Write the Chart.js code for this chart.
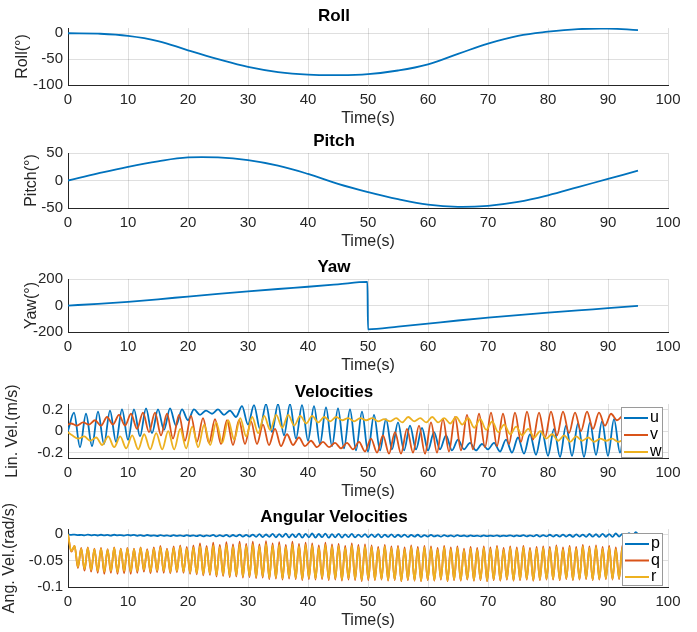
<!DOCTYPE html>
<html>
<head>
<meta charset="utf-8">
<script src="https://cdn.jsdelivr.net/npm/chart.js@4.4.1/dist/chart.umd.min.js"></script>
<style>
  body { margin: 0; background: #fff; width: 697px; height: 632px; position: relative; overflow: hidden; }
  canvas { position: absolute; left: 0; }
</style>
</head>
<body>
<canvas id="roll"></canvas>
<canvas id="pitch"></canvas>
<canvas id="yaw"></canvas>
<canvas id="vel"></canvas>
<canvas id="ang"></canvas>
<script>
// ---- data ----
const xTicks = [0, 10, 20, 30, 40, 50, 60, 70, 80, 90, 100];

const attTime = [0, 5, 10, 15, 20, 25, 30, 35, 40, 45, 50, 55, 60, 65, 70, 75, 80, 85, 90, 95];
const rollDeg = [0, -0.8, -5, -15, -33, -50, -65, -75, -80, -81, -79, -72, -60, -40, -20, -5, 3, 8, 9, 6];
const pitchDeg = [0, 13, 25, 35, 42, 42, 37, 27, 12, -6, -21, -34, -44, -48, -46, -39, -27, -12, 3, 18];

const yawTime = [0, 5, 10, 15, 20, 25, 30, 35, 40, 45, 49.9, 50, 55, 60, 65, 70, 75, 80, 85, 90, 95];
const yawDeg = [0, 12, 28, 47, 68, 88, 107, 125, 142, 160, 178, -180, -160, -137, -113, -92, -72, -54, -37, -20, -3];

const rollTicks = [-100, -50, 0];
const pitchTicks = [-50, 0, 50];
const yawTicks = [-200, 0, 200];
const velTicks = [-0.2, 0, 0.2];
const angTicks = [-0.1, -0.05, 0];

// linear velocities: peaks / troughs, one value per sample step
const velStep = 1;
const uStart = 0, vStart = -0.5, wStart = -0.3;
const uVel = [
  0.0, 0.17, -0.15, 0.16, -0.14, 0.18, -0.12, 0.19, -0.1, 0.2,
  -0.08, 0.2, -0.05, 0.21, -0.02, 0.2, 0.01, 0.21, 0.05, 0.2,
  0.1, 0.2, 0.15, 0.19, 0.16, 0.2, 0.15, 0.19, 0.13, 0.23,
  0.06, 0.24, 0.02, 0.25, -0.01, 0.25, -0.04, 0.25, -0.07, 0.24,
  -0.09, 0.23, -0.12, 0.22, -0.14, 0.21, -0.16, 0.2, -0.18, 0.18,
  -0.19, 0.15, -0.18, 0.11, -0.17, 0.08, -0.18, 0.05, -0.17, 0.03,
  -0.18, -0.01, -0.17, -0.04, -0.18, -0.08, -0.17, -0.11, -0.18, -0.12,
  -0.17, -0.11, -0.19, -0.08, -0.2, -0.06, -0.21, -0.03, -0.22, 0.0,
  -0.23, 0.02, -0.24, 0.05, -0.23, 0.07, -0.24, 0.08, -0.22, 0.09,
  -0.23, 0.11, -0.2, 0.1, -0.18, 0.05
];
const vVel = [
  0.04, 0.07, 0.05, 0.08, 0.06, 0.1, 0.05, 0.13, 0.06, 0.15,
  0.05, 0.16, 0.02, 0.17, -0.01, 0.17, -0.04, 0.16, -0.07, 0.15,
  -0.09, 0.14, -0.1, 0.12, -0.11, 0.11, -0.12, 0.1, -0.13, 0.1,
  -0.12, 0.09, -0.12, 0.06, -0.13, 0.02, -0.14, -0.03, -0.13, -0.06,
  -0.14, -0.09, -0.15, -0.1, -0.15, -0.11, -0.16, -0.11, -0.17, -0.1,
  -0.19, -0.07, -0.2, -0.04, -0.21, -0.01, -0.21, 0.02, -0.2, 0.05,
  -0.21, 0.08, -0.2, 0.11, -0.19, 0.13, -0.18, 0.15, -0.17, 0.16,
  -0.15, 0.17, -0.14, 0.16, -0.12, 0.17, -0.1, 0.18, -0.08, 0.17,
  -0.06, 0.18, -0.04, 0.18, -0.02, 0.17, 0.0, 0.18, 0.02, 0.17,
  0.05, 0.16, 0.1, 0.14, 0.11, 0.13, 0.12
];
const wVel = [
  0.0, -0.04, -0.07, -0.05, -0.09, -0.06, -0.13, -0.05, -0.15, -0.05,
  -0.16, -0.04, -0.17, -0.03, -0.17, -0.02, -0.17, 0.0, -0.17, 0.02,
  -0.16, 0.04, -0.15, 0.06, -0.13, 0.08, -0.11, 0.1, -0.08, 0.12,
  -0.05, 0.13, -0.02, 0.14, 0.01, 0.15, 0.03, 0.15, 0.05, 0.14,
  0.07, 0.14, 0.08, 0.13, 0.09, 0.13, 0.1, 0.12, 0.09, 0.12,
  0.1, 0.12, 0.09, 0.11, 0.09, 0.12, 0.08, 0.13, 0.09, 0.12,
  0.08, 0.13, 0.08, 0.12, 0.07, 0.13, 0.06, 0.12, 0.03, 0.11,
  0.01, 0.09, -0.01, 0.06, -0.03, 0.04, -0.04, 0.02, -0.06, 0.0,
  -0.07, -0.03, -0.09, -0.04, -0.1, -0.05, -0.09, -0.06, -0.1, -0.07,
  -0.09, -0.07, -0.1, -0.08, -0.09, -0.08
];

// angular velocities: peaks / troughs every half period
const angStep = 0.55;
const pRate = [
  0, -0.001,
  -0.0005, -0.0015, -0.001, -0.002, -0.0005, -0.0018, -0.001, -0.0022, -0.0008, -0.002, -0.0012, -0.0025, -0.0008, -0.002, -0.0014, -0.0026, -0.001, -0.0022,
  -0.0012, -0.0028, -0.0016, -0.003, -0.0013, -0.0027, -0.0018, -0.0032, -0.0015, -0.003, -0.002, -0.0035, -0.0016, -0.003, -0.0019, -0.0034, -0.0017, -0.0032,
  -0.0018, -0.0036, -0.0015, -0.0038, -0.002, -0.0035, -0.0012, -0.004, -0.0016, -0.0037, -0.001, -0.0042, -0.0013, -0.0038, -0.0006, -0.0045, -0.001, -0.0042,
  -0.0004, -0.0048, 0.0002, -0.0052, -0.0003, -0.0047, 0.0008, -0.0056, 0.0002, -0.005, 0.0012, -0.006, 0.0005, -0.0054, 0.0015, -0.0062, 0.0008, -0.0056,
  0.0016, -0.0062, 0.0006, -0.0055, 0.0014, -0.0064, 0.0004, -0.0056, 0.001, -0.006, 0.0, -0.0052, 0.0008, -0.0058, -0.0004, -0.005, 0.0003, -0.0054,
  -0.0002, -0.0052, 0.0002, -0.0056, -0.0006, -0.0048, -0.0002, -0.0054, -0.0008, -0.0046, -0.0004, -0.005, -0.0012, -0.0044, -0.0008, -0.0048, -0.0014, -0.0042,
  -0.0012, -0.004, -0.0018, -0.0044, -0.0015, -0.0038, -0.002, -0.0042, -0.0016, -0.0036, -0.0022, -0.004, -0.002, -0.0036, -0.0024, -0.0039, -0.0021, -0.0036,
  -0.0024, -0.0035, -0.002, -0.0037, -0.0023, -0.0034, -0.0018, -0.0038, -0.0021, -0.0036, -0.0015, -0.004, -0.0018, -0.0038, -0.0012, -0.0042, -0.0015, -0.004,
  -0.0008, -0.0042, -0.0011, -0.0045, -0.0004, -0.0043, -0.0008, -0.0047, 0.0, -0.0044, -0.0004, -0.0048, 0.0006, -0.0045, 0.0001, -0.0049, 0.001, -0.0046,
  0.0005, -0.0048, 0.0016, -0.0042, 0.0008, -0.005, 0.0022, -0.004, 0.004, -0.002
];
const qRate = [
  0, -0.033,
  -0.022, -0.064, -0.026, -0.069, -0.025, -0.071, -0.027, -0.073, -0.026, -0.075, -0.028, -0.073, -0.025, -0.075, -0.027, -0.074, -0.026, -0.075,
  -0.027, -0.073, -0.025, -0.071, -0.028, -0.074, -0.025, -0.072, -0.022, -0.073, -0.027, -0.074, -0.023, -0.072, -0.021, -0.073, -0.024, -0.075,
  -0.021, -0.076, -0.017, -0.078, -0.022, -0.077, -0.016, -0.08, -0.02, -0.079, -0.015, -0.081, -0.019, -0.08, -0.014, -0.082, -0.018, -0.081,
  -0.014, -0.083, -0.019, -0.082, -0.013, -0.085, -0.017, -0.084, -0.015, -0.086, -0.02, -0.084, -0.014, -0.085, -0.018, -0.087, -0.016, -0.085,
  -0.017, -0.086, -0.021, -0.085, -0.016, -0.087, -0.019, -0.086, -0.018, -0.088, -0.022, -0.086, -0.017, -0.087, -0.02, -0.089, -0.019, -0.087,
  -0.021, -0.087, -0.024, -0.086, -0.02, -0.088, -0.023, -0.087, -0.022, -0.089, -0.025, -0.087, -0.021, -0.088, -0.024, -0.089, -0.022, -0.087,
  -0.023, -0.088, -0.026, -0.086, -0.022, -0.089, -0.025, -0.087, -0.023, -0.088, -0.027, -0.086, -0.024, -0.088, -0.026, -0.087, -0.023, -0.089,
  -0.025, -0.087, -0.022, -0.088, -0.026, -0.086, -0.023, -0.088, -0.025, -0.087, -0.022, -0.086, -0.026, -0.088, -0.024, -0.087, -0.023, -0.086,
  -0.024, -0.086, -0.021, -0.087, -0.025, -0.085, -0.022, -0.087, -0.024, -0.086, -0.02, -0.085, -0.023, -0.087, -0.021, -0.086, -0.024, -0.085,
  -0.022, -0.086, -0.025, -0.085, -0.021, -0.087, -0.024, -0.086, -0.023, -0.085
];
const rRate = [
  0, -0.032,
  -0.022, -0.062, -0.027, -0.066, -0.026, -0.068, -0.028, -0.07, -0.027, -0.071, -0.029, -0.07, -0.026, -0.072, -0.028, -0.07, -0.027, -0.071,
  -0.028, -0.07, -0.026, -0.068, -0.03, -0.071, -0.027, -0.069, -0.025, -0.07, -0.029, -0.072, -0.026, -0.07, -0.024, -0.071, -0.027, -0.073,
  -0.025, -0.074, -0.022, -0.076, -0.026, -0.075, -0.021, -0.078, -0.024, -0.077, -0.02, -0.079, -0.023, -0.078, -0.019, -0.08, -0.022, -0.079,
  -0.019, -0.081, -0.023, -0.08, -0.018, -0.083, -0.021, -0.082, -0.02, -0.084, -0.024, -0.082, -0.019, -0.083, -0.022, -0.085, -0.02, -0.083,
  -0.021, -0.084, -0.025, -0.083, -0.02, -0.085, -0.023, -0.084, -0.022, -0.086, -0.026, -0.084, -0.021, -0.085, -0.024, -0.087, -0.023, -0.085,
  -0.024, -0.086, -0.027, -0.085, -0.023, -0.087, -0.026, -0.086, -0.025, -0.088, -0.028, -0.086, -0.024, -0.087, -0.027, -0.088, -0.025, -0.086,
  -0.026, -0.087, -0.029, -0.085, -0.025, -0.088, -0.028, -0.086, -0.026, -0.087, -0.03, -0.085, -0.027, -0.087, -0.029, -0.086, -0.026, -0.088,
  -0.028, -0.086, -0.025, -0.087, -0.029, -0.085, -0.026, -0.087, -0.028, -0.086, -0.025, -0.085, -0.029, -0.087, -0.027, -0.086, -0.026, -0.085,
  -0.027, -0.085, -0.024, -0.086, -0.028, -0.084, -0.025, -0.086, -0.027, -0.085, -0.023, -0.084, -0.026, -0.086, -0.024, -0.085, -0.027, -0.084,
  -0.025, -0.085, -0.028, -0.084, -0.024, -0.086, -0.027, -0.085, -0.026, -0.084
];

// ---- styling ----
const BLUE = '#0072BD', ORANGE = '#D95319', YELLOW = '#EDB120';
const AXIS = '#262626', GRID = 'rgba(38,38,38,0.15)';
const FONT = '"Liberation Sans", Arial, Helvetica, sans-serif';
const TITLE_H = 22, XAXIS_H = 44, EXTRA = 14;
Chart.defaults.font.family = FONT;

function pairs(xs, ys) { return ys.map((y, i) => ({ x: xs[i], y: y })); }
function sampled(start, step, ys) { return ys.map((y, i) => ({ x: start + i * step, y: y })); }

// legend box drawn inside the axes (offsets from the plot area's top-right corner)
const boxLegend = {
  id: 'boxLegend',
  afterDatasetsDraw(chart, args, o) {
    if (!o || !o.show) return;
    const ctx = chart.ctx;
    const a = chart.chartArea;
    const x = Math.round(a.right - o.dx), y = Math.round(a.top + o.dy);
    ctx.save();
    ctx.fillStyle = '#fff';
    ctx.fillRect(x, y, o.w, o.h);
    ctx.strokeStyle = '#9a9a9a';
    ctx.lineWidth = 1;
    ctx.strokeRect(x + 0.5, y + 0.5, o.w, o.h);
    ctx.font = '16px ' + FONT;
    ctx.textBaseline = 'middle';
    chart.data.datasets.forEach((ds, i) => {
      const yy = y + o.row0 + i * o.gap;
      ctx.strokeStyle = ds.borderColor;
      ctx.lineWidth = 2;
      ctx.beginPath();
      ctx.moveTo(x + 3, yy);
      ctx.lineTo(x + 27, yy);
      ctx.stroke();
      ctx.fillStyle = '#000';
      ctx.fillText(ds.label, x + 29, yy);
    });
    ctx.restore();
  }
};

const panels = [
  { id: 'roll', title: 'Roll', ylabel: 'Roll(°)', top: 28, h: 57, ymin: -100, ymax: 10, yticks: rollTicks, ytPad: 13, smooth: true,
    sets: [{ label: 'Roll', data: pairs(attTime, rollDeg), color: BLUE }] },
  { id: 'pitch', title: 'Pitch', ylabel: 'Pitch(°)', top: 153, h: 55, ymin: -50, ymax: 50, yticks: pitchTicks, ytPad: 22, smooth: true,
    sets: [{ label: 'Pitch', data: pairs(attTime, pitchDeg), color: BLUE }] },
  { id: 'yaw', title: 'Yaw', ylabel: 'Yaw(°)', top: 279, h: 53, ymin: -200, ymax: 200, yticks: yawTicks, ytPad: 22,
    sets: [{ label: 'Yaw', data: pairs(yawTime, yawDeg), color: BLUE }] },
  { id: 'vel', title: 'Velocities', ylabel: 'Lin. Vel.(m/s)', top: 404, h: 54, ymin: -0.25, ymax: 0.25, yticks: velTicks, ytPad: 3,
    legend: { show: true, dx: 47, dy: 3, w: 41, h: 50, row0: 11, gap: 17 },
    sets: [
      { label: 'u', data: sampled(uStart, velStep, uVel), color: BLUE },
      { label: 'v', data: sampled(vStart, velStep, vVel), color: ORANGE },
      { label: 'w', data: sampled(wStart, velStep, wVel), color: YELLOW }
    ] },
  { id: 'ang', title: 'Angular Velocities', ylabel: 'Ang. Vel.(rad/s)', top: 529, h: 58, ymin: -0.1, ymax: 0.01, yticks: angTicks, ytPad: 0,
    legend: { show: true, dx: 46, dy: 4, w: 40, h: 52, row0: 11, gap: 16.5 },
    sets: [
      { label: 'p', data: sampled(0, angStep, pRate), color: BLUE },
      { label: 'q', data: sampled(0, angStep, qRate), color: ORANGE },
      { label: 'r', data: sampled(0, angStep, rRate), color: YELLOW }
    ] }
];

panels.forEach(p => {
  const cv = document.getElementById(p.id);
  cv.width = 697;
  cv.height = EXTRA + TITLE_H + p.h + XAXIS_H;
  cv.style.top = (p.top - TITLE_H - EXTRA) + 'px';
  const n = p.sets.length;
  new Chart(cv, {
    type: 'line',
    data: {
      datasets: p.sets.map((s, i) => ({
        label: s.label, data: s.data, borderColor: s.color, backgroundColor: s.color,
        borderWidth: 1.8, pointRadius: 0, fill: false,
        order: n - i,   // later series on top, as in Matlab
        cubicInterpolationMode: p.smooth ? 'default' : 'monotone',
        tension: p.smooth ? 0.4 : 0
      }))
    },
    options: {
      responsive: false,
      animation: false,
      events: [],
      layout: { padding: { left: 0, right: 29, top: EXTRA, bottom: 0 } },
      plugins: {
        legend: { display: false },
        tooltip: { enabled: false },
        title: {
          display: true, text: p.title, color: '#000',
          font: { size: 17, weight: 'bold', lineHeight: 1.18 },
          padding: { top: 0, bottom: 2 }
        },
        boxLegend: p.legend || { show: false }
      },
      scales: {
        x: {
          type: 'linear', min: 0, max: 100,
          afterBuildTicks: s => { s.ticks = xTicks.map(v => ({ value: v })); },
          afterFit: s => { s.height = XAXIS_H; },
          grid: { color: GRID, drawTicks: false },
          border: { color: AXIS, width: 1 },
          ticks: { padding: 6, color: AXIS, font: { size: 15 }, maxRotation: 0, callback: v => String(v) },
          title: { display: true, text: 'Time(s)', color: AXIS, font: { size: 16, lineHeight: 1.25 }, padding: { top: 0, bottom: 0 } }
        },
        y: {
          type: 'linear', min: p.ymin, max: p.ymax,
          afterBuildTicks: s => { s.ticks = p.yticks.map(v => ({ value: v })); },
          afterFit: s => { s.width = 68; },
          grid: { color: GRID, drawTicks: false },
          border: { color: AXIS, width: 1 },
          ticks: { padding: 5, color: AXIS, font: { size: 15 }, callback: v => String(v) },
          title: { display: true, text: p.ylabel, color: AXIS, font: { size: 16, lineHeight: 1.25 }, padding: { top: p.ytPad, bottom: 0 } }
        }
      }
    },
    plugins: [boxLegend]
  });
});
</script>
</body>
</html>
